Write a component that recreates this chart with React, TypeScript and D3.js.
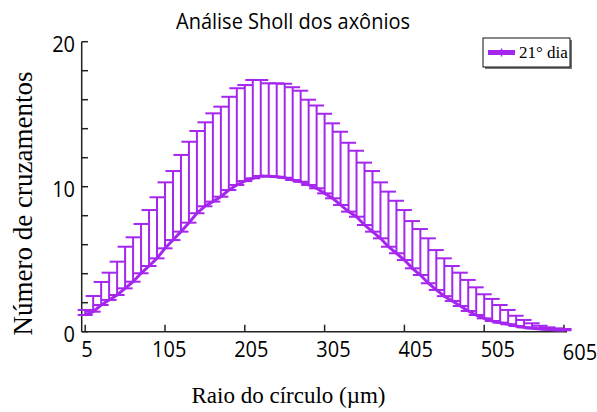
import { useEffect, useRef } from 'react';
import * as d3 from 'd3';

// Sholl radius (µm)
const radii = [
  5, 15, 25, 35, 45, 55, 65, 75, 85, 95,
  105, 115, 125, 135, 145, 155, 165, 175, 185, 195,
  205, 215, 225, 235, 245, 255, 265, 275, 285, 295,
  305, 315, 325, 335, 345, 355, 365, 375, 385, 395,
  405, 415, 425, 435, 445, 455, 465, 475, 485, 495,
  505, 515, 525, 535, 545, 555, 565, 575, 585, 595, 605,
];

// mean number of crossings, 21st day
const meanCrossings = [
  1.15, 1.38, 1.84, 2.19, 2.53, 2.99, 3.45, 4.03, 4.53, 5.06,
  5.75, 6.32, 6.9, 7.52, 8.17, 8.65, 8.97, 9.31, 9.77, 10.12,
  10.39, 10.58, 10.74, 10.72, 10.68, 10.62, 10.46, 10.34, 10.12, 9.89,
  9.54, 9.2, 8.74, 8.28, 7.93, 7.36, 6.9, 6.44, 5.86, 5.41,
  4.94, 4.37, 3.91, 3.34, 2.88, 2.45, 2.12, 1.77, 1.43, 1.15,
  0.92, 0.74, 0.62, 0.51, 0.39, 0.3, 0.23, 0.19, 0.16, 0.12, 0.1,
];

// top of the error bar (mean + sd)
const upperCrossings = [
  1.5, 2.46, 3.43, 4.07, 4.83, 5.86, 6.51, 7.43, 8.39, 9.27,
  10.3, 11.08, 12.19, 13.1, 13.84, 14.44, 15.06, 15.52, 16.2, 16.79,
  17.01, 17.36, 17.36, 17.13, 17.13, 17.1, 16.86, 16.62, 16.0, 15.6,
  15.03, 14.37, 13.79, 13.03, 12.48, 11.66, 11.08, 10.3, 9.66, 9.03,
  8.39, 7.63, 7.08, 6.44, 5.63, 5.06, 4.53, 4.07, 3.57, 3.06,
  2.58, 2.26, 1.84, 1.5, 1.1, 0.81, 0.58, 0.41, 0.3, 0.23, 0.19,
];

const xTicks = [5, 105, 205, 305, 405, 505, 605];
const yMajorTicks = [0, 10, 20];
const yMinorTicks = [2, 4, 6, 8, 12, 14, 16, 18];

const seriesName = '21° dia';
const title = 'Análise Sholl dos axônios';
const xTitle = 'Raio do círculo (µm)';
const yTitle = 'Número de cruzamentos';

export default function App() {
  const svgRef = useRef<SVGSVGElement>(null);

  useEffect(() => {
    const svg = d3.select(svgRef.current);
    svg.selectAll('*').remove();

    const purple = '#a526ee';
    const axisColor = '#222';
    const ink = '#000';
    const sansFont = '"Open Sans", sans-serif';
    const serifFont = '"Liberation Serif", "DejaVu Serif", serif';
    const stretch = 1.13; // reference text is a bit taller than Open Sans

    const data = radii.map((r, i) => ({ r, mean: meanCrossings[i], upper: upperCrossings[i] }));

    const x = d3.scaleLinear().domain([5, 605]).range([85.2, 564]);
    const xLabel = d3.scaleLinear().domain([5, 605]).range([87, 580]);
    const y = d3.scaleLinear().domain([0, 20]).range([331.7, 41.7]);

    // title
    svg.append('text')
      .attr('transform', `translate(293,29) scale(1,${stretch})`)
      .attr('text-anchor', 'middle')
      .style('font-family', sansFont)
      .style('font-size', '20px')
      .style('fill', ink)
      .text(title);

    // axes
    const axes = svg.append('g').attr('stroke', axisColor).attr('stroke-width', 1.5);
    axes.append('line')
      .attr('x1', 81.7).attr('x2', 81.7)
      .attr('y1', y(0)).attr('y2', y(20));
    axes.append('line')
      .attr('x1', 81.7).attr('x2', 567)
      .attr('y1', y(0)).attr('y2', y(0));

    axes.selectAll('.ytick')
      .data([...yMajorTicks, ...yMinorTicks])
      .enter()
      .append('line')
      .attr('x1', 81.7).attr('x2', 88)
      .attr('y1', d => y(d)).attr('y2', d => y(d));

    axes.selectAll('.xtick')
      .data(xTicks)
      .enter()
      .append('line')
      .attr('x1', d => x(d)).attr('x2', d => x(d))
      .attr('y1', y(0)).attr('y2', y(0) - 7);

    // tick labels
    svg.selectAll('.ylabel')
      .data(yMajorTicks)
      .enter()
      .append('text')
      .attr('transform', d => `translate(75,${y(d) + 10}) scale(1,${stretch})`)
      .attr('text-anchor', 'end')
      .style('font-family', sansFont)
      .style('font-size', '20px')
      .style('fill', ink)
      .text(d => d);

    svg.selectAll('.xlabel')
      .data(xTicks)
      .enter()
      .append('text')
      .attr('transform', d => `translate(${xLabel(d)},${d === 605 ? 360 : 357}) scale(1,${stretch})`)
      .attr('text-anchor', 'middle')
      .style('font-family', sansFont)
      .style('font-size', '20px')
      .style('fill', ink)
      .text(d => d);

    // axis titles
    svg.append('text')
      .attr('x', 288.5)
      .attr('y', 403)
      .attr('text-anchor', 'middle')
      .style('font-family', serifFont)
      .style('font-size', '23px')
      .style('fill', ink)
      .text(xTitle);

    svg.append('text')
      .attr('transform', 'translate(32,203.5) rotate(-90)')
      .attr('text-anchor', 'middle')
      .style('font-family', serifFont)
      .style('font-size', '27px')
      .style('fill', ink)
      .text(yTitle);

    // error bars
    const capHalf = 7.5;
    const bars = svg.append('g').attr('stroke', purple).attr('stroke-width', 2);
    bars.selectAll('.err')
      .data(data)
      .enter()
      .append('line')
      .attr('x1', d => x(d.r)).attr('x2', d => x(d.r))
      .attr('y1', d => y(d.mean)).attr('y2', d => y(d.upper));

    bars.selectAll('.capTop')
      .data(data)
      .enter()
      .append('line')
      .attr('x1', d => x(d.r) - capHalf).attr('x2', d => x(d.r) + capHalf)
      .attr('y1', d => y(d.upper)).attr('y2', d => y(d.upper));

    bars.selectAll('.capMean')
      .data(data)
      .enter()
      .append('line')
      .attr('x1', d => x(d.r) - capHalf).attr('x2', d => x(d.r) + capHalf)
      .attr('y1', d => y(d.mean)).attr('y2', d => y(d.mean));

    // mean line
    const line = d3.line<{ r: number; mean: number }>()
      .x(d => x(d.r))
      .y(d => y(d.mean));

    svg.append('path')
      .datum(data)
      .attr('fill', 'none')
      .attr('stroke', purple)
      .attr('stroke-width', 3)
      .attr('d', line);

    // legend
    const legend = svg.append('g');
    legend.append('rect')
      .attr('x', 485).attr('y', 40)
      .attr('width', 87).attr('height', 29)
      .attr('fill', '#777');
    legend.append('rect')
      .attr('x', 483).attr('y', 38)
      .attr('width', 87).attr('height', 29)
      .attr('fill', '#fff')
      .attr('stroke', '#111')
      .attr('stroke-width', 1);
    legend.append('line')
      .attr('x1', 488).attr('x2', 515)
      .attr('y1', 52.5).attr('y2', 52.5)
      .attr('stroke', purple)
      .attr('stroke-width', 5);
    legend.append('line')
      .attr('x1', 501.5).attr('x2', 501.5)
      .attr('y1', 48.5).attr('y2', 56.5)
      .attr('stroke', purple)
      .attr('stroke-width', 1.5);
    legend.append('text')
      .attr('x', 519)
      .attr('y', 58)
      .style('font-family', serifFont)
      .style('font-size', '17px')
      .style('fill', ink)
      .text(seriesName);
  }, []);

  return (
    <svg
      ref={svgRef}
      width={597}
      height={412}
      style={{ position: 'absolute', left: 0, top: 0, background: '#fff' }}
    />
  );
}
